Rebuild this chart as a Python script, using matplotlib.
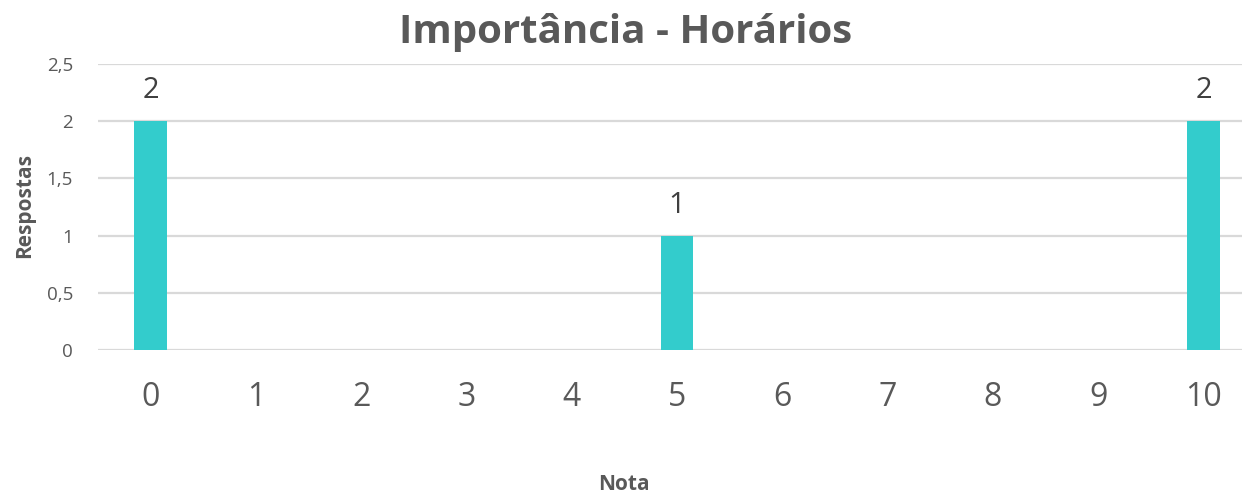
import matplotlib.pyplot as plt
from matplotlib.ticker import FuncFormatter

plt.rcParams['font.family'] = ['Open Sans', 'DejaVu Sans']

notas = list(range(11))
respostas = [2, 0, 0, 0, 0, 1, 0, 0, 0, 0, 2]
yticks = [0, 0.5, 1, 1.5, 2, 2.5]

fig = plt.figure(figsize=(12.42, 4.96), dpi=100)
ax = fig.add_axes([98 / 1242, 1 - 350 / 496, 1 - 98 / 1242, (350 - 64) / 496])

bars = ax.bar(notas, respostas, width=0.31, color='#33CCCC', zorder=3)
for x, v in zip(notas, respostas):
    if v > 0:
        ax.text(x, v + 0.14, str(v), ha='center', va='bottom',
                fontsize=21, color='#404040')

ax.set_xlim(-0.5, 10.366)
ax.set_ylim(0, 2.5)
ax.set_yticks(yticks)
ax.yaxis.set_major_formatter(FuncFormatter(lambda v, p: f'{v:g}'.replace('.', ',')))
ax.set_xticks(notas)
ax.grid(axis='y', color='#D9D9D9', linewidth=1.6, zorder=0)
ax.tick_params(axis='y', length=0, pad=18, labelsize=13.5, labelcolor='#595959')
ax.tick_params(axis='x', length=0, pad=22, labelsize=23, labelcolor='#595959')
for s in ax.spines.values():
    s.set_visible(False)

fig.text(0.504, 0.935, 'Importância - Horários', ha='center', va='center',
         fontsize=29, fontweight='bold', color='#595959')
fig.text(0.502, 0.024, 'Nota', ha='center', va='center',
         fontsize=15, fontweight='bold', color='#595959')
fig.text(0.02, 0.585, 'Respostas', ha='center', va='center', rotation=90,
         fontsize=15, fontweight='bold', color='#595959')

fig.savefig('out.png', dpi=100)
